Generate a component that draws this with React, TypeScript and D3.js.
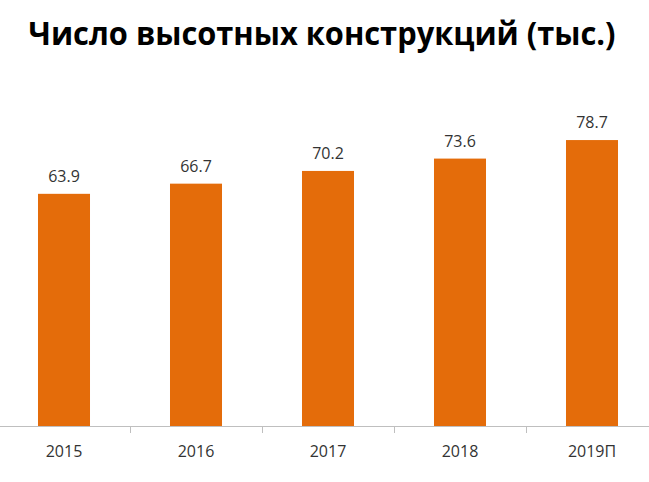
import React from "react";
import * as d3 from "d3";

// chart data
const years = ["2015", "2016", "2017", "2018", "2019П"];
const values = [63.9, 66.7, 70.2, 73.6, 78.7];

const W = 649;
const H = 482;
const BAR_COLOR = "#E46C0A";
const TEXT_COLOR = "#333333";
const FONT = "'Open Sans', 'DejaVu Sans', sans-serif";

export default function App() {
  const x = d3
    .scaleBand<string>()
    .domain(years)
    .range([-2, 658])
    .paddingInner(0.606)
    .paddingOuter(0.303);

  const baseline = 426;
  const y = d3.scaleLinear().domain([0, 90]).range([baseline, 99]);

  const gap = (x.step() - x.bandwidth()) / 2;
  const ticks = years.slice(1).map((yr) => (x(yr) || 0) - gap);

  return (
    <svg
      width={W}
      height={H}
      style={{ position: "absolute", left: 0, top: 0, background: "#fff" }}
    >
      <text
        x={322}
        y={45}
        textAnchor="middle"
        fontFamily={FONT}
        fontWeight={700}
        fontSize={32}
        textLength={587}
        lengthAdjust="spacingAndGlyphs"
        fill="#000"
      >
        Число высотных конструкций (тыс.)
      </text>

      {/* bars */}
      {years.map((yr, i) => (
        <rect
          key={yr}
          x={x(yr)}
          y={y(values[i])}
          width={x.bandwidth()}
          height={baseline - y(values[i])}
          fill={BAR_COLOR}
        />
      ))}

      {/* value labels */}
      {years.map((yr, i) => (
        <text
          key={"v" + yr}
          x={(x(yr) || 0) + x.bandwidth() / 2}
          y={y(values[i]) - 12}
          textAnchor="middle"
          fontFamily={FONT}
          fontSize={16}
          fill={TEXT_COLOR}
        >
          {values[i].toFixed(1)}
        </text>
      ))}

      {/* axis */}
      <line x1={0} x2={W} y1={baseline + 0.5} y2={baseline + 0.5} stroke="#BFBFBF" strokeWidth={1} />
      {ticks.map((t, i) => (
        <line
          key={"t" + i}
          x1={Math.round(t) + 0.5}
          x2={Math.round(t) + 0.5}
          y1={baseline}
          y2={baseline + 7}
          stroke="#BFBFBF"
          strokeWidth={1}
        />
      ))}
      {years.map((yr) => (
        <text
          key={"l" + yr}
          x={(x(yr) || 0) + x.bandwidth() / 2}
          y={457}
          textAnchor="middle"
          fontFamily={FONT}
          fontSize={16}
          fill={TEXT_COLOR}
        >
          {yr}
        </text>
      ))}
    </svg>
  );
}
